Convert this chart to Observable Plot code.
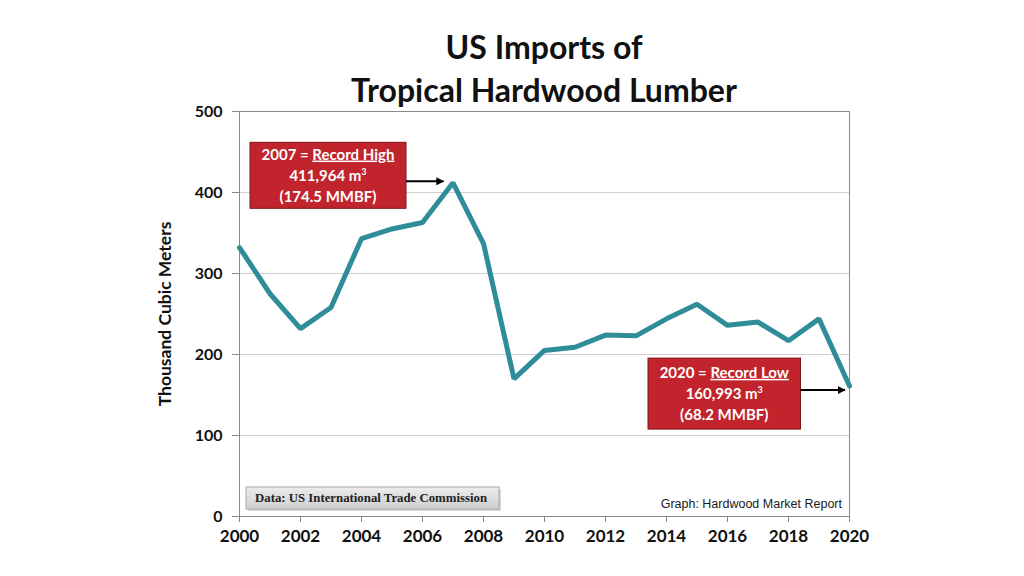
<!DOCTYPE html>
<html>
<head>
<meta charset="utf-8">
<script src="https://cdn.jsdelivr.net/npm/d3@7"></script>
<script src="https://cdn.jsdelivr.net/npm/@observablehq/plot@0.6"></script>
<style>
  html, body { margin: 0; padding: 0; background: #fff; }
  #title { position: relative; z-index: 2; height: 100px; box-sizing: border-box; padding-top: 25px; padding-left: 64px;
    text-align: center; font-family: Lato, "Open Sans", sans-serif; font-weight: bold; font-size: 32px; line-height: 43px; color: #111; }
  #chart { position: relative; z-index: 1; }
</style>
</head>
<body>
<div id="title">US Imports of<br>Tropical Hardwood Lumber</div>
<div id="chart"></div>
<script>
// ---- data ----
const years = [2000, 2001, 2002, 2003, 2004, 2005, 2006, 2007, 2008, 2009, 2010,
               2011, 2012, 2013, 2014, 2015, 2016, 2017, 2018, 2019, 2020];
const imports = [332, 275, 232, 258, 343, 355, 363, 412, 337, 170, 205,
                 209, 224, 223, 244, 262, 236, 240, 217, 244, 161];
const yTicks = [0, 100, 200, 300, 400, 500];
const xTicks = [2000, 2002, 2004, 2006, 2008, 2010, 2012, 2014, 2016, 2018, 2020];
const yLabel = "Thousand Cubic Meters";

const annYears = [2007, 2020];
const annValues = [411.964, 160.993];
const annPrefix = ["2007 = ", "2020 = "];
const annUnder = ["Record High", "Record Low"];
const annLine2 = ["411,964 m", "160,993 m"];
const annLine3 = ["(174.5 MMBF)", "(68.2 MMBF)"];
const sourceText = "Data: US International Trade Commission";
const creditText = "Graph: Hardwood Market Report";

// layout of annotation boxes relative to their data point (pixels)
const annLayout = [
  {left: -202.5, width: 156, top: -40, height: 66, arrowDy: -1, arrowEnd: -9},
  {left: -201, width: 152.5, top: -27.5, height: 71, arrowDy: 4.5, arrowEnd: -4}
];

const data = years.map((y, i) => ({year: y, value: imports[i]}));
const ann = annYears.map((y, i) => ({year: y, value: annValues[i], prefix: annPrefix[i], under: annUnder[i],
  l2: annLine2[i], l3: annLine3[i], lay: annLayout[i]}));

const font = "Lato, 'Open Sans', sans-serif";

function annotations(index, scales, values, dimensions) {
  const g = d3.create("svg:g");
  const defs = g.append("defs");
  defs.append("marker").attr("id", "ah").attr("viewBox", "0 0 10 10").attr("refX", 9).attr("refY", 5)
    .attr("markerWidth", 4).attr("markerHeight", 4).attr("orient", "auto")
    .append("path").attr("d", "M0,0L10,5L0,10z").attr("fill", "#000");
  const grad = defs.append("linearGradient").attr("id", "srcgrad").attr("x1", 0).attr("x2", 0).attr("y1", 0).attr("y2", 1);
  grad.append("stop").attr("offset", "0%").attr("stop-color", "#ececec");
  grad.append("stop").attr("offset", "100%").attr("stop-color", "#cfcfcf");

  for (const a of ann) {
    const px = scales.x(a.year), py = scales.y(a.value), L = a.lay;
    const bx = px + L.left, by = py + L.top;
    g.append("rect").attr("x", bx).attr("y", by).attr("width", L.width).attr("height", L.height)
      .attr("fill", "#c1242c").attr("stroke", "#7d1518").attr("stroke-width", 1);
    const cx = bx + L.width / 2;
    const lh = 21;
    const t0 = by + L.height / 2 - lh;
    const t = g.append("text").attr("font-family", font).attr("font-weight", "bold").attr("font-size", 15)
      .attr("fill", "#fff").attr("text-anchor", "middle");
    const r1 = t.append("tspan").attr("x", cx).attr("y", t0).attr("dy", "0.35em");
    r1.append("tspan").text(a.prefix);
    r1.append("tspan").attr("text-decoration", "underline").text(a.under);
    const r2 = t.append("tspan").attr("x", cx).attr("y", t0 + lh).attr("dy", "0.35em");
    r2.append("tspan").text(a.l2);
    r2.append("tspan").attr("font-size", 9).attr("dy", "-0.6em").text("3");
    t.append("tspan").attr("x", cx).attr("y", t0 + 2 * lh).attr("dy", "0.35em").text(a.l3);
    const ay = py + L.arrowDy;
    g.append("line").attr("x1", bx + L.width).attr("y1", ay).attr("x2", px + L.arrowEnd).attr("y2", ay)
      .attr("stroke", "#000").attr("stroke-width", 2).attr("marker-end", "url(#ah)");
  }

  // source box
  const fx = dimensions.marginLeft, fb = dimensions.height - dimensions.marginBottom;
  const fr = dimensions.width - dimensions.marginRight;
  g.append("rect").attr("x", fx + 9).attr("y", fb - 27).attr("width", 253).attr("height", 22)
    .attr("fill", "#bbb").attr("opacity", 0.6);
  g.append("rect").attr("x", fx + 7).attr("y", fb - 29).attr("width", 253).attr("height", 22)
    .attr("fill", "url(#srcgrad)").attr("stroke", "#a8a8a8");
  g.append("text").attr("x", fx + 16).attr("y", fb - 18).attr("dy", "0.35em").attr("text-anchor", "start")
    .attr("font-family", "'Liberation Serif', serif").attr("font-weight", "bold").attr("font-size", 12.8)
    .attr("fill", "#222").text(sourceText);
  g.append("text").attr("x", fr - 7).attr("y", fb - 12).attr("dy", "0.35em").attr("text-anchor", "end")
    .attr("font-family", "'Liberation Sans', Arial, sans-serif").attr("font-size", 12.5)
    .attr("fill", "#1a1a1a").text(creditText);
  return g.node();
}

const chart = Plot.plot({
  width: 1024,
  height: 476,
  marginTop: 11,
  marginBottom: 60,
  marginLeft: 239,
  marginRight: 175,
  style: {fontFamily: font, background: "#fff", color: "#111"},
  x: {domain: [2000, 2020]},
  y: {domain: [0, 500]},
  marks: [
    Plot.gridY([100, 200, 300, 400], {stroke: "#cfcfcf", strokeOpacity: 1, strokeWidth: 1}),
    Plot.frame({stroke: "#8a8a8a", strokeWidth: 1}),
    Plot.axisY(yTicks, {tickSize: 7, tickPadding: 10, fontSize: 16, fontWeight: "bold", label: null, stroke: "#888"}),
    Plot.axisX(xTicks, {tickSize: 6, tickPadding: 7, fontSize: 17, fontWeight: "bold", label: null,
      tickFormat: d => String(d), stroke: "#888"}),
    Plot.text([yLabel], {frameAnchor: "left", dx: -74, rotate: -90, text: d => d, fontSize: 17.5,
      fontWeight: "bold", fill: "#111", textAnchor: "middle"}),
    Plot.line(data, {x: "year", y: "value", stroke: "#2e8d99", strokeWidth: 5, strokeLinejoin: "miter"}),
    annotations
  ]
});
document.getElementById("chart").append(chart);
</script>
</body>
</html>
